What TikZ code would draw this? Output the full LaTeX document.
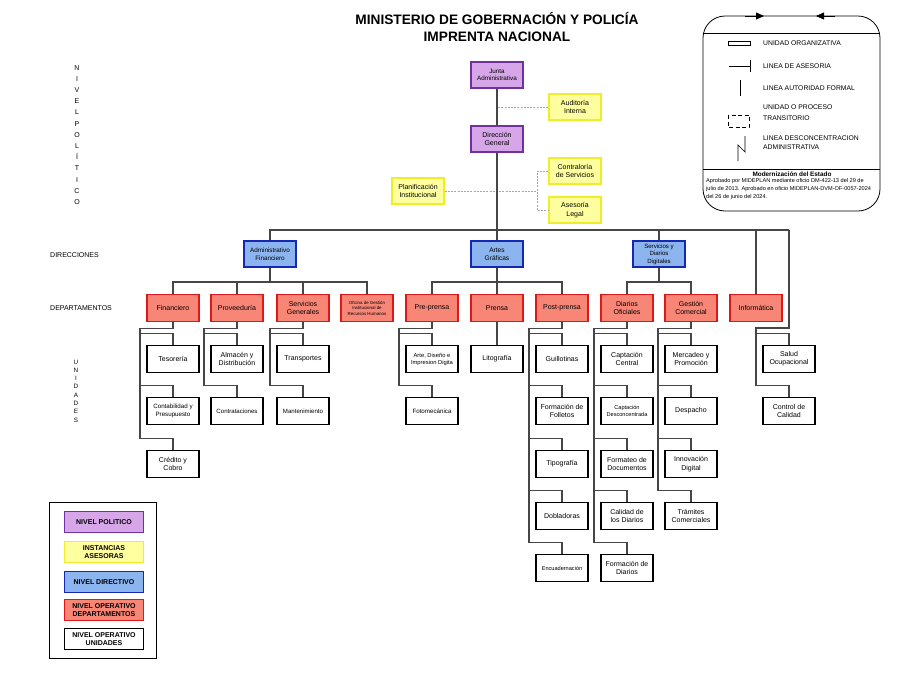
\documentclass[tikz,border=0pt]{standalone}
\usepackage{fontspec}
\setmainfont{Liberation Sans}
\usetikzlibrary{positioning,arrows.meta,calc}
\definecolor{pLine}{RGB}{112,48,160}
\definecolor{pFill}{RGB}{214,166,232}
\definecolor{yLine}{RGB}{238,238,40}
\definecolor{yFill}{RGB}{255,255,160}
\definecolor{bLine}{RGB}{20,40,180}
\definecolor{bFill}{RGB}{140,180,238}
\definecolor{rLine}{RGB}{222,24,24}
\definecolor{rFill}{RGB}{248,134,118}
\definecolor{cLine}{RGB}{70,70,70}
\tikzset{
  box/.style={rectangle, line width=1.6pt, minimum width=52, minimum height=26,
              inner sep=1pt, align=center, font=\fontsize{7}{8.3}\selectfont},
  pol/.style={box, draw=pLine, fill=pFill},
  ase/.style={box, draw=yLine, fill=yFill},
  dir/.style={box, draw=bLine, fill=bFill, font=\fontsize{6.3}{7.6}\selectfont},
  dep/.style={box, draw=rLine, fill=rFill, minimum height=27},
  uni/.style={box, draw=black, fill=white, minimum height=27, line width=1.8pt},
  ley/.style={minimum width=79, minimum height=21, font=\bfseries\fontsize{7}{8}\selectfont},
  linea/.style={draw=cLine, line width=1.1pt},
  aseso/.style={draw=gray!70, line width=0.8pt, dash pattern=on 2pt off 1.2pt},
  nivel/.style={font=\fontsize{7}{8}\selectfont, inner sep=0pt},
  simb/.style={font=\fontsize{6.8}{9}\selectfont, anchor=west, align=left, inner sep=0pt},
}
\newcommand{\ramal}[3]{%
  \draw[linea] (#1.south) -- ++(0,6) -| ($(#2.north)+(-33,-11)$);
  \foreach \u in {#3} \draw[linea] ($(\u.north)+(-33,-11)$) -| (\u.north);}

\begin{document}
\begin{tikzpicture}[x=1pt, y=-1pt]
  \useasboundingbox (0,0) rectangle (900,694);

  \node[font=\bfseries\fontsize{13.7}{17}\selectfont, align=center] (tit) at (497,27)
    {MINISTERIO DE GOBERNACIÓN Y POLICÍA\\IMPRENTA NACIONAL};

  % niveles
  \node[nivel, align=center, font=\fontsize{7}{11.2}\selectfont] (nPol) at (77,135)
    {N\\I\\V\\E\\L\\P\\O\\L\\Í\\T\\I\\C\\O};
  \node[nivel, anchor=west] (nDir) at (50,255) {DIRECCIONES};
  \node[nivel, anchor=west] (nDep) at (50,308) {DEPARTAMENTOS};
  \node[nivel, align=center, font=\fontsize{6.3}{8.3}\selectfont] (nUni) at (76,391)
    {U\\N\\I\\D\\A\\D\\E\\S};

  % nivel politico y asesor
  \node[pol, font=\fontsize{6.3}{7.6}\selectfont] (jad) at (497,75) {Junta\\Administrativa};
  \node[ase] (aud) at (575,107) {Auditoría\\Interna};
  \node[pol] (dg) at (497,139) {Dirección\\General};
  \node[ase] (con) at (575,171) {Contraloría\\de Servicios};
  \node[ase] (plan) at (418,191) {Planificación\\Institucional};
  \node[ase] (leg) at (575,210) {Asesoría\\Legal};

  % direcciones
  \node[dir] (adm) at (270,254) {Administrativo\\Financiero};
  \node[dir, font=\fontsize{6.6}{8}\selectfont] (art) at (497,254) {Artes\\Gráficas};
  \node[dir, font=\fontsize{6.1}{7.5}\selectfont] (sdd) at (659,254) {Servicios y\\Diarios\\Digitales};

  % departamentos
  \node[dep] (fin) at (173,308) {Financiero};
  \node[dep] (prov) at (237,308) {Proveeduría};
  \node[dep] (sg) at (303,308) {Servicios\\Generales};
  \node[dep, font=\fontsize{4.4}{5.6}\selectfont] (ofi) at (367,308)
    {Oficina de Gestión\\Institucional de\\Recursos Humanos};
  \node[dep] (pre) at (432,308) {Pre-prensa};
  \node[dep] (pren) at (497,308) {Prensa};
  \node[dep] (post) at (562,308) {Post-prensa};
  \node[dep] (dof) at (627,308) {Diarios\\Oficiales};
  \node[dep] (gcom) at (691,308) {Gestión\\Comercial};
  \node[dep] (inf) at (756,308) {Informática};

  % unidades
  \node[uni] (teso) at (173,359) {Tesorería};
  \node[uni, font=\fontsize{6.2}{7.6}\selectfont] (conta) at (173,411) {Contabilidad y\\Presupuesto};
  \node[uni] (cred) at (173,464) {Crédito y\\Cobro};
  \node[uni] (alm) at (237,359) {Almacén y\\Distribución};
  \node[uni, font=\fontsize{6.1}{7.5}\selectfont] (contr) at (237,411) {Contrataciones};
  \node[uni] (trans) at (303,359) {Transportes};
  \node[uni, font=\fontsize{6.1}{7.5}\selectfont] (mant) at (303,411) {Mantenimiento};
  \node[uni, font=\fontsize{5.8}{7}\selectfont] (arte) at (432,359) {Arte, Diseño e\\Impresion Digita};
  \node[uni, font=\fontsize{6.2}{7.5}\selectfont] (foto) at (432,411) {Fotomecánica};
  \node[uni] (lito) at (497,359) {Litografía};
  \node[uni] (guil) at (562,359) {Guillotinas};
  \node[uni] (foll) at (562,411) {Formación de\\Folletos};
  \node[uni] (tipo) at (562,464) {Tipografía};
  \node[uni] (dobl) at (562,516) {Dobladoras};
  \node[uni, font=\fontsize{5.6}{7}\selectfont] (encu) at (562,568) {Encuadernación};
  \node[uni] (ccen) at (627,359) {Captación\\Central};
  \node[uni, font=\fontsize{5.6}{7}\selectfont] (cdes) at (627,411) {Captación\\Desconcentrada};
  \node[uni] (fdoc) at (627,464) {Formateo de\\Documentos};
  \node[uni] (cdia) at (627,516) {Calidad de\\los Diarios};
  \node[uni] (fdia) at (627,568) {Formación de\\Diarios};
  \node[uni] (merc) at (691,359) {Mercadeo y\\Promoción};
  \node[uni] (desp) at (691,411) {Despacho};
  \node[uni] (innv) at (691,464) {Innovación\\Digital};
  \node[uni] (tram) at (691,516) {Trámites\\Comerciales};
  \node[uni] (salud) at (789,359) {Salud\\Ocupacional};
  \node[uni] (ctrl) at (789,411) {Control de\\Calidad};

  % lineas de asesoria
  \coordinate (asJ) at (537,191);
  \draw[aseso] (aud.west) -- (aud.west -| jad.south);
  \draw[aseso] (plan.east) -- (asJ);
  \draw[aseso] (con.west) -| (asJ) |- (leg.west);

  % autoridad formal
  \coordinate (busR) at (789,230);
  \coordinate (admB) at (270,282);
  \coordinate (artB) at (497,282);
  \coordinate (sddB) at (659,282);
  \draw[linea] (jad) -- (dg);
  \draw[linea] (dg) -- (art);
  \draw[linea] (adm.north) |- (busR);
  \draw[linea] (sdd.north) -- (sdd.north |- busR);
  \draw[linea] (inf.north) -- (inf.north |- busR);
  \draw[linea] (adm.south) -- (admB);
  \draw[linea] (fin.north) |- (admB) -| (ofi.north);
  \foreach \d in {prov,sg} \draw[linea] (\d.north) -- (\d.north |- admB);
  \draw[linea] (art.south) -- (pren.north);
  \draw[linea] (pre.north) |- (artB) -| (post.north);
  \draw[linea] (sdd.south) -- (sddB);
  \draw[linea] (dof.north) |- (sddB) -| (gcom.north);

  \ramal{fin}{cred}{teso,conta,cred}
  \ramal{prov}{contr}{alm,contr}
  \ramal{sg}{mant}{trans,mant}
  \ramal{pre}{foto}{arte,foto}
  \draw[linea] (pren) -- (lito);
  \ramal{post}{encu}{guil,foll,tipo,dobl,encu}
  \ramal{dof}{fdia}{ccen,cdes,fdoc,cdia,fdia}
  \ramal{gcom}{tram}{merc,desp,innv,tram}
  \draw[linea] (busR) -- ++(0,98) -| ($(ctrl.north)+(-33,-11)$);
  \foreach \u in {salud,ctrl} \draw[linea] ($(\u.north)+(-33,-11)$) -| (\u.north);

  % simbologia
  \draw[line width=0.8pt, rounded corners=22] (703,16) rectangle (880,211);
  \draw[-{Triangle[length=8pt,width=7pt]}, line width=0.8pt] (745,16) -- (764,16);
  \draw[-{Triangle[length=8pt,width=7pt]}, line width=0.8pt] (835,16) -- (816,16);
  \draw[line width=0.6pt] (703,33) -- (879,33);
  \draw[line width=0.6pt] (703,169) -- (880,169);
  \draw[line width=0.7pt] (728,41.5) rectangle (750,45.5);
  \draw[line width=0.7pt] (729,66) -- (750,66) (750,60) -- (750,72);
  \draw[line width=0.7pt] (740,80) -- (740,96);
  \draw[line width=0.7pt, dash pattern=on 4pt off 2.5pt] (728,115) rectangle (749,127);
  \draw[line width=0.7pt] (745,136) -- (745,152) -- (738,145) -- (738,161);
  \node[simb] (tUO) at (763,43) {UNIDAD ORGANIZATIVA};
  \node[simb] (tLA) at (763,66) {LINEA DE ASESORIA};
  \node[simb] (tAF) at (763,88) {LINEA AUTORIDAD FORMAL};
  \node[simb, font=\fontsize{6.8}{11}\selectfont] (tTR) at (763,112.5) {UNIDAD O PROCESO\\TRANSITORIO};
  \node[simb, font=\fontsize{6.8}{9}\selectfont] (tDC) at (763,142.5) {LINEA DESCONCENTRACION\\ADMINISTRATIVA};
  \node[font=\bfseries\fontsize{6.4}{7.5}\selectfont, inner sep=0pt] (tMod) at (792,174) {Modernización del Estado};
  \node[font=\fontsize{5.6}{8}\selectfont, anchor=north west, align=left, inner sep=0pt] (tApr) at (706,178.5)
    {Aprobado por MIDEPLAN mediante oficio DM-422-13 del 29 de\\
     julio de 2013. Aprobado en oficio MIDEPLAN-DVM-OF-0057-2024\\
     del 26 de junio del 2024.};

  % leyenda de niveles
  \draw[line width=0.6pt] (49,502) rectangle (156,658);
  \node[pol, ley] (lPol) at (104,522) {NIVEL POLITICO};
  \node[ase, ley] (lAse) at (104,552) {INSTANCIAS\\ASESORAS};
  \node[dir, ley] (lDir) at (104,582) {NIVEL DIRECTIVO};
  \node[dep, ley] (lDep) at (104,610) {NIVEL OPERATIVO\\DEPARTAMENTOS};
  \node[uni, ley] (lUni) at (104,639) {NIVEL OPERATIVO\\UNIDADES};
\end{tikzpicture}
\end{document}
